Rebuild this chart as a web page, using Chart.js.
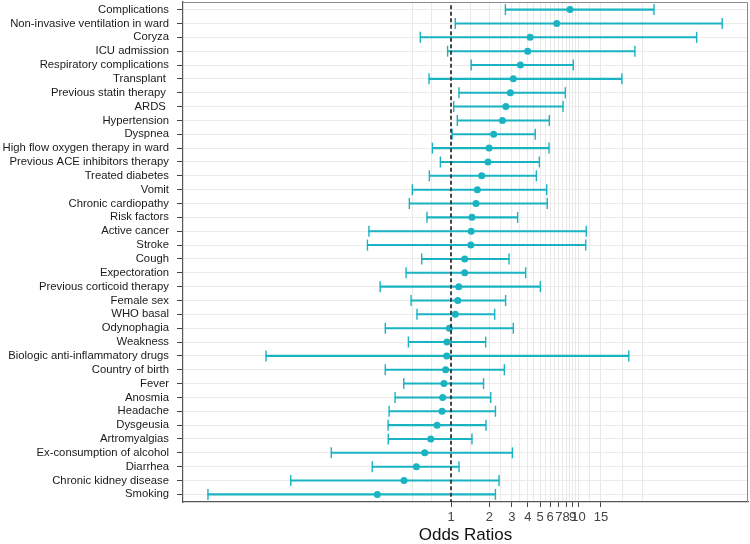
<!DOCTYPE html>
<html>
<head>
<meta charset="utf-8">
<script src="https://cdn.jsdelivr.net/npm/chart.js@4"></script>
<style>
  html, body { margin: 0; padding: 0; background: #ffffff; }
  #wrap { width: 750px; height: 544px; }
</style>
</head>
<body>
<div id="wrap"><canvas id="c" width="750" height="544"></canvas></div>
<script>
const categories = [
  "Complications", "Non-invasive ventilation in ward", "Coryza", "ICU admission",
  "Respiratory complications", "Transplant ", "Previous statin therapy ", "ARDS ",
  "Hypertension", "Dyspnea", "High flow oxygen therapy in ward", "Previous ACE inhibitors therapy",
  "Treated diabetes", "Vomit", "Chronic cardiopathy", "Risk factors", "Active cancer", "Stroke",
  "Cough", "Expectoration", "Previous corticoid therapy", "Female sex", "WHO basal", "Odynophagia",
  "Weakness", "Biologic anti-inflammatory drugs", "Country of birth", "Fever", "Anosmia", "Headache",
  "Dysgeusia", "Artromyalgias", "Ex-consumption of alcohol", "Diarrhea", "Chronic kidney disease", "Smoking"
];
const oddsRatio = [8.58, 6.75, 4.17, 3.99, 3.50, 3.08, 2.92, 2.69, 2.53, 2.16, 1.99, 1.95, 1.74, 1.61, 1.57, 1.46, 1.44, 1.43,
  1.28, 1.28, 1.15, 1.13, 1.08, 0.97, 0.93, 0.925, 0.908, 0.88, 0.86, 0.85, 0.777, 0.693, 0.622, 0.535, 0.428, 0.264];
const ciLower = [2.67, 1.08, 0.574, 0.94, 1.44, 0.672, 1.155, 1.05, 1.12, 1.02, 0.714, 0.825, 0.676, 0.497, 0.471, 0.648, 0.227, 0.221,
  0.589, 0.444, 0.278, 0.486, 0.541, 0.305, 0.463, 0.0354, 0.305, 0.426, 0.364, 0.327, 0.321, 0.322, 0.115, 0.241, 0.0553, 0.0124];
const ciUpper = [39.1, 134, 84.5, 27.7, 9.1, 21.9, 7.88, 7.56, 5.9, 4.58, 5.87, 4.93, 4.67, 5.63, 5.69, 3.33, 11.5, 11.4,
  2.85, 3.85, 5.02, 2.68, 2.20, 3.08, 1.87, 24.8, 2.62, 1.80, 2.05, 2.23, 1.88, 1.46, 3.03, 1.155, 2.38, 2.23];
const xTickLabels = [1, 2, 3, 4, 5, 6, 7, 8, 9, 10, 15];
const xGridValues = [0.5, 0.707, 1, 1.414, 2, 2.449, 3, 3.464, 4, 4.472, 5, 5.477, 6, 6.481, 7, 7.483, 8, 8.485, 9, 9.487, 10, 12.25, 15, 22, 31.5];
const referenceLine = 1;

const TEAL = '#19b3c2';
const isLabeled = v => xTickLabels.some(t => Math.abs(t - v) < 1e-6);

const barData = categories.map((c, i) => ({ x: [ciLower[i], ciUpper[i]], y: i }));
const capData = [];
categories.forEach((c, i) => { capData.push({ x: ciLower[i], y: i }); capData.push({ x: ciUpper[i], y: i }); });
const pointData = categories.map((c, i) => ({ x: oddsRatio[i], y: i }));
const refData = [{ x: referenceLine, y: -5 }, { x: referenceLine, y: categories.length + 5 }];

const panelBorder = {
  id: 'panelBorder',
  afterDraw(chart) {
    const { ctx, chartArea: a } = chart;
    ctx.save();
    ctx.strokeStyle = '#8a8a8a';
    ctx.lineWidth = 1;
    ctx.beginPath();
    ctx.moveTo(a.left, a.top + 0.5);
    ctx.lineTo(a.right - 0.5, a.top + 0.5);
    ctx.lineTo(a.right - 0.5, a.bottom);
    ctx.stroke();
    ctx.restore();
  }
};

new Chart(document.getElementById('c'), {
  type: 'scatter',
  data: {
    datasets: [
      { type: 'line', data: refData, borderColor: '#333333', borderWidth: 1.8, borderDash: [4, 2.5],
        pointRadius: 0, fill: false, clip: 0, order: 0 },
      { type: 'scatter', data: pointData, backgroundColor: TEAL, borderWidth: 0, pointRadius: 3.5, order: 1 },
      { type: 'scatter', data: capData, pointStyle: 'line', rotation: 90, pointRadius: 5.5,
        borderColor: TEAL, borderWidth: 1.4, order: 2 },
      { type: 'bar', indexAxis: 'y', data: barData, backgroundColor: TEAL, borderWidth: 0,
        barThickness: 1.4, order: 3 }
    ]
  },
  options: {
    responsive: false,
    animation: false,
    events: [],
    layout: { autoPadding: false, padding: { top: 2, right: 2, left: 0, bottom: 0 } },
    plugins: { legend: { display: false }, tooltip: { enabled: false } },
    scales: {
      x: {
        type: 'logarithmic',
        min: 0.0079,
        max: 213.6,
        offset: false,
        afterBuildTicks: s => { s.ticks = xGridValues.map(v => ({ value: v })); },
        afterFit: s => { s.height = 42; s.paddingLeft = 0; s.paddingRight = 0; },
        ticks: {
          autoSkip: false, maxRotation: 0, minRotation: 0, padding: 3,
          color: '#444444',
          font: { family: "'Liberation Sans', Arial, sans-serif", size: 13 },
          callback: v => isLabeled(v) ? String(v) : ''
        },
        grid: {
          offset: false,
          color: c => (c.tick && Math.abs(c.tick.value - referenceLine) < 1e-6) ? 'rgba(0,0,0,0)' : '#e9e9e9',
          lineWidth: 1,
          tickLength: 5,
          tickColor: c => (c.tick && isLabeled(c.tick.value)) ? '#444444' : 'rgba(0,0,0,0)'
        },
        border: { display: true, color: '#555555', width: 1.2 },
        title: {
          display: true, text: 'Odds Ratios', color: '#111111',
          font: { family: "'Liberation Sans', Arial, sans-serif", size: 17, lineHeight: 1 },
          padding: { top: 0, bottom: 0 }
        }
      },
      y: {
        type: 'linear',
        reverse: true,
        min: -0.55,
        max: categories.length - 0.45,
        offset: false,
        afterBuildTicks: s => { s.ticks = categories.map((c, i) => ({ value: i })); },
        afterFit: s => { s.width = 183; s.paddingTop = 0; s.paddingBottom = 0; },
        ticks: {
          autoSkip: false, padding: 8, color: '#1a1a1a',
          font: { family: "'Liberation Sans', Arial, sans-serif", size: 11.3 },
          callback: v => categories[v]
        },
        grid: { offset: false, color: '#ebebeb', lineWidth: 1, tickLength: 6, tickColor: '#444444' },
        border: { display: true, color: '#555555', width: 1.2 }
      }
    }
  },
  plugins: [panelBorder]
});
</script>
</body>
</html>
